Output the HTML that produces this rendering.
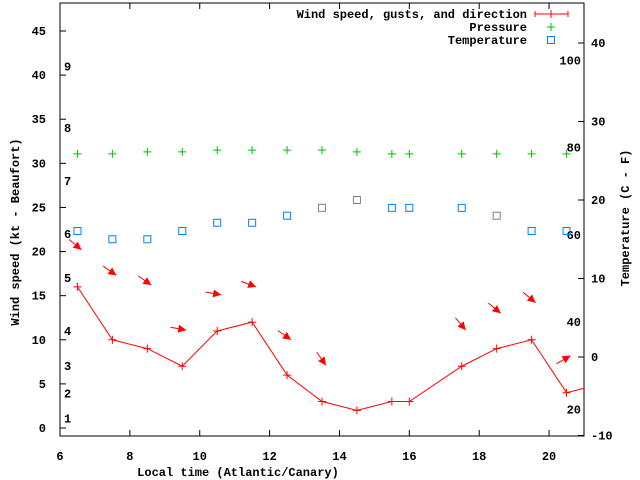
<!DOCTYPE html>
<html><head><meta charset="utf-8"><style>
html,body{margin:0;padding:0;background:#fff}
svg{display:block}
text{font-family:"Liberation Mono","DejaVu Sans Mono",monospace;font-size:12px;font-weight:bold;fill:#000}
</style></head><body>
<svg id="chart" width="640" height="480" xmlns="http://www.w3.org/2000/svg"></svg>
<script>
const windTimes=[6.5,7.5,8.5,9.5,10.5,11.5,12.5,13.5,14.5,15.5,16,17.5,18.5,19.5,20.5,21.5];
const windSpeeds=[16,10,9,7,11,12,6,3,2,3,3,7,9,10,4,5];
const gustTimes=[6.5,7.5,8.5,9.5,10.5,11.5,12.5,13.5,17.5,18.5,19.5,20.5];
const gustSpeeds=[20.2,17.3,16.2,11.1,15.1,16,10,7.1,11.1,13,14.2,8.2];
const windDirs=[310,305,305,280,280,290,305,325,320,310,310,240];
const pressTimes=[6.5,7.5,8.5,9.5,10.5,11.5,12.5,13.5,14.5,15.5,16,17.5,18.5,19.5,20.5];
const pressScaled=[31.07,31.07,31.3,31.3,31.5,31.5,31.5,31.5,31.3,31.07,31.07,31.07,31.07,31.07,31.07];
const tempTimes=[6.5,7.5,8.5,9.5,10.5,11.5,12.5,13.5,14.5,15.5,16,17.5,18.5,19.5,20.5];
const tempC=[16.05,15,15,16.05,17.1,17.1,18,19,20,19,19,19,18,16.05,16.05];
const tempGray=[0,0,0,0,0,0,0,1,1,0,0,0,1,0,0];
const xTicks=[6,8,10,12,14,16,18,20];
const yTicks=[0,5,10,15,20,25,30,35,40,45];
const y2Ticks=[-10,0,10,20,30,40];
const beaufortLabels=["1","2","3","4","5","6","7","8","9"];
const beaufortKt=[1.1,3.9,7,11,17,22,28,34,41];
const fLabels=["20","40","60","80","100"];
const fValues=[20,40,60,80,100];

const L=60,R=584,T=3,B=436;
const X=t=>L+(t-6)*(R-L)/15;
const Y=v=>428-v*(428-31)/45;
const YC=c=>357-c*(357-43)/40;
const NS="http://www.w3.org/2000/svg";
const svg=document.getElementById('chart');
function el(tag,attrs,parent){const e=document.createElementNS(NS,tag);for(const k in attrs)e.setAttribute(k,attrs[k]);(parent||svg).appendChild(e);return e;}
function txt(x,y,s,anchor,parent){const e=el('text',{x:x,y:y,'text-anchor':anchor||'start'},parent);e.textContent=s;return e;}

const defs=el('defs',{});
const cp=el('clipPath',{id:'clip'},defs);el('rect',{x:L,y:T,width:R-L,height:B-T},cp);

const frame=el('rect',{x:L,y:T,width:R-L,height:B-T,fill:'none',stroke:'#000','stroke-width':1});


const xg=el('g',{});


xTicks.forEach(t=>{const x=X(t);el('line',{x1:x,y1:B,x2:x,y2:B-6,stroke:'#000'},xg);el('line',{x1:x,y1:T,x2:x,y2:T+6,stroke:'#000'},xg);txt(x,460,String(t),'middle',xg);});
const yg=el('g',{});


yTicks.forEach(v=>{const y=Y(v);el('line',{x1:L,y1:y,x2:L+6,y2:y,stroke:'#000'},yg);txt(46,y+4,String(v),'end',yg);});
const y2g=el('g',{});


y2Ticks.forEach(v=>{const y=YC(v);el('line',{x1:R,y1:y,x2:R-6,y2:y,stroke:'#000'},y2g);txt(591,y+4,String(v),'start',y2g);});
const bg=el('g',{});


beaufortLabels.forEach((s,i)=>txt(64,Y(beaufortKt[i])+4,s,'start',bg));
const fg=el('g',{});


fLabels.forEach((s,i)=>txt(581,YC((fValues[i]-32)*5/9)+4,s,'end',fg));

const xt=txt(238,476,'Local time (Atlantic/Canary)','middle');


const yt=el('text',{x:0,y:0,'text-anchor':'middle',transform:'translate(19,232) rotate(-90)'});yt.textContent='Wind speed (kt - Beaufort)';


const y2t=el('text',{x:0,y:0,'text-anchor':'middle',transform:'translate(629,218) rotate(-90)'});y2t.textContent='Temperature (C - F)';



const plot=el('g',{'clip-path':'url(#clip)'});
function plus(x,y,c,g){el('path',{d:`M${x-4},${y}H${x+4}M${x},${y-4}V${y+4}`,stroke:c,'stroke-width':1,fill:'none'},g);}
const wg=el('g',{},plot);


el('polyline',{points:windTimes.map((t,i)=>X(t)+','+Y(windSpeeds[i])).join(' '),fill:'none',stroke:'#f00','stroke-width':1},wg);
windTimes.forEach((t,i)=>plus(X(t),Y(windSpeeds[i]),'#f00',wg));
const ag=el('g',{},plot);


gustTimes.forEach((t,i)=>{
  const hx=X(t)+4,hy=Y(gustSpeeds[i]);
  const b=(windDirs[i]+180)*Math.PI/180;
  const dx=Math.sin(b),dy=-Math.cos(b);
  const len=16;
  el('line',{x1:hx-dx*len,y1:hy-dy*len,x2:hx,y2:hy,stroke:'#f00','stroke-width':1},ag);
  const px=-dy,py=dx;
  el('polygon',{points:`${hx},${hy} ${hx-dx*8+px*4},${hy-dy*8+py*4} ${hx-dx*8-px*4},${hy-dy*8-py*4}`,fill:'#f00'},ag);
});
const pg=el('g',{},plot);


pressTimes.forEach((t,i)=>plus(X(t),Y(pressScaled[i]),'#00c000',pg));
const tg=el('g',{},plot);


tempTimes.forEach((t,i)=>el('rect',{x:X(t)-3.5,y:YC(tempC[i])-3.5,width:7,height:7,fill:'none',stroke:tempGray[i]?'#808080':'#0080ff','stroke-width':1},tg));

const lg=el('g',{});


txt(527,18,'Wind speed, gusts, and direction','end',lg);
el('path',{d:'M535,14H568M535,11V17M568,11V17',stroke:'#f00',fill:'none'},lg);plus(551,14,'#f00',lg);
txt(527,31,'Pressure','end',lg);plus(551,27,'#00c000',lg);
txt(527,44,'Temperature','end',lg);
el('rect',{x:547.5,y:36.5,width:7,height:7,fill:'none',stroke:'#0080ff'},lg);
</script>
</body></html>
